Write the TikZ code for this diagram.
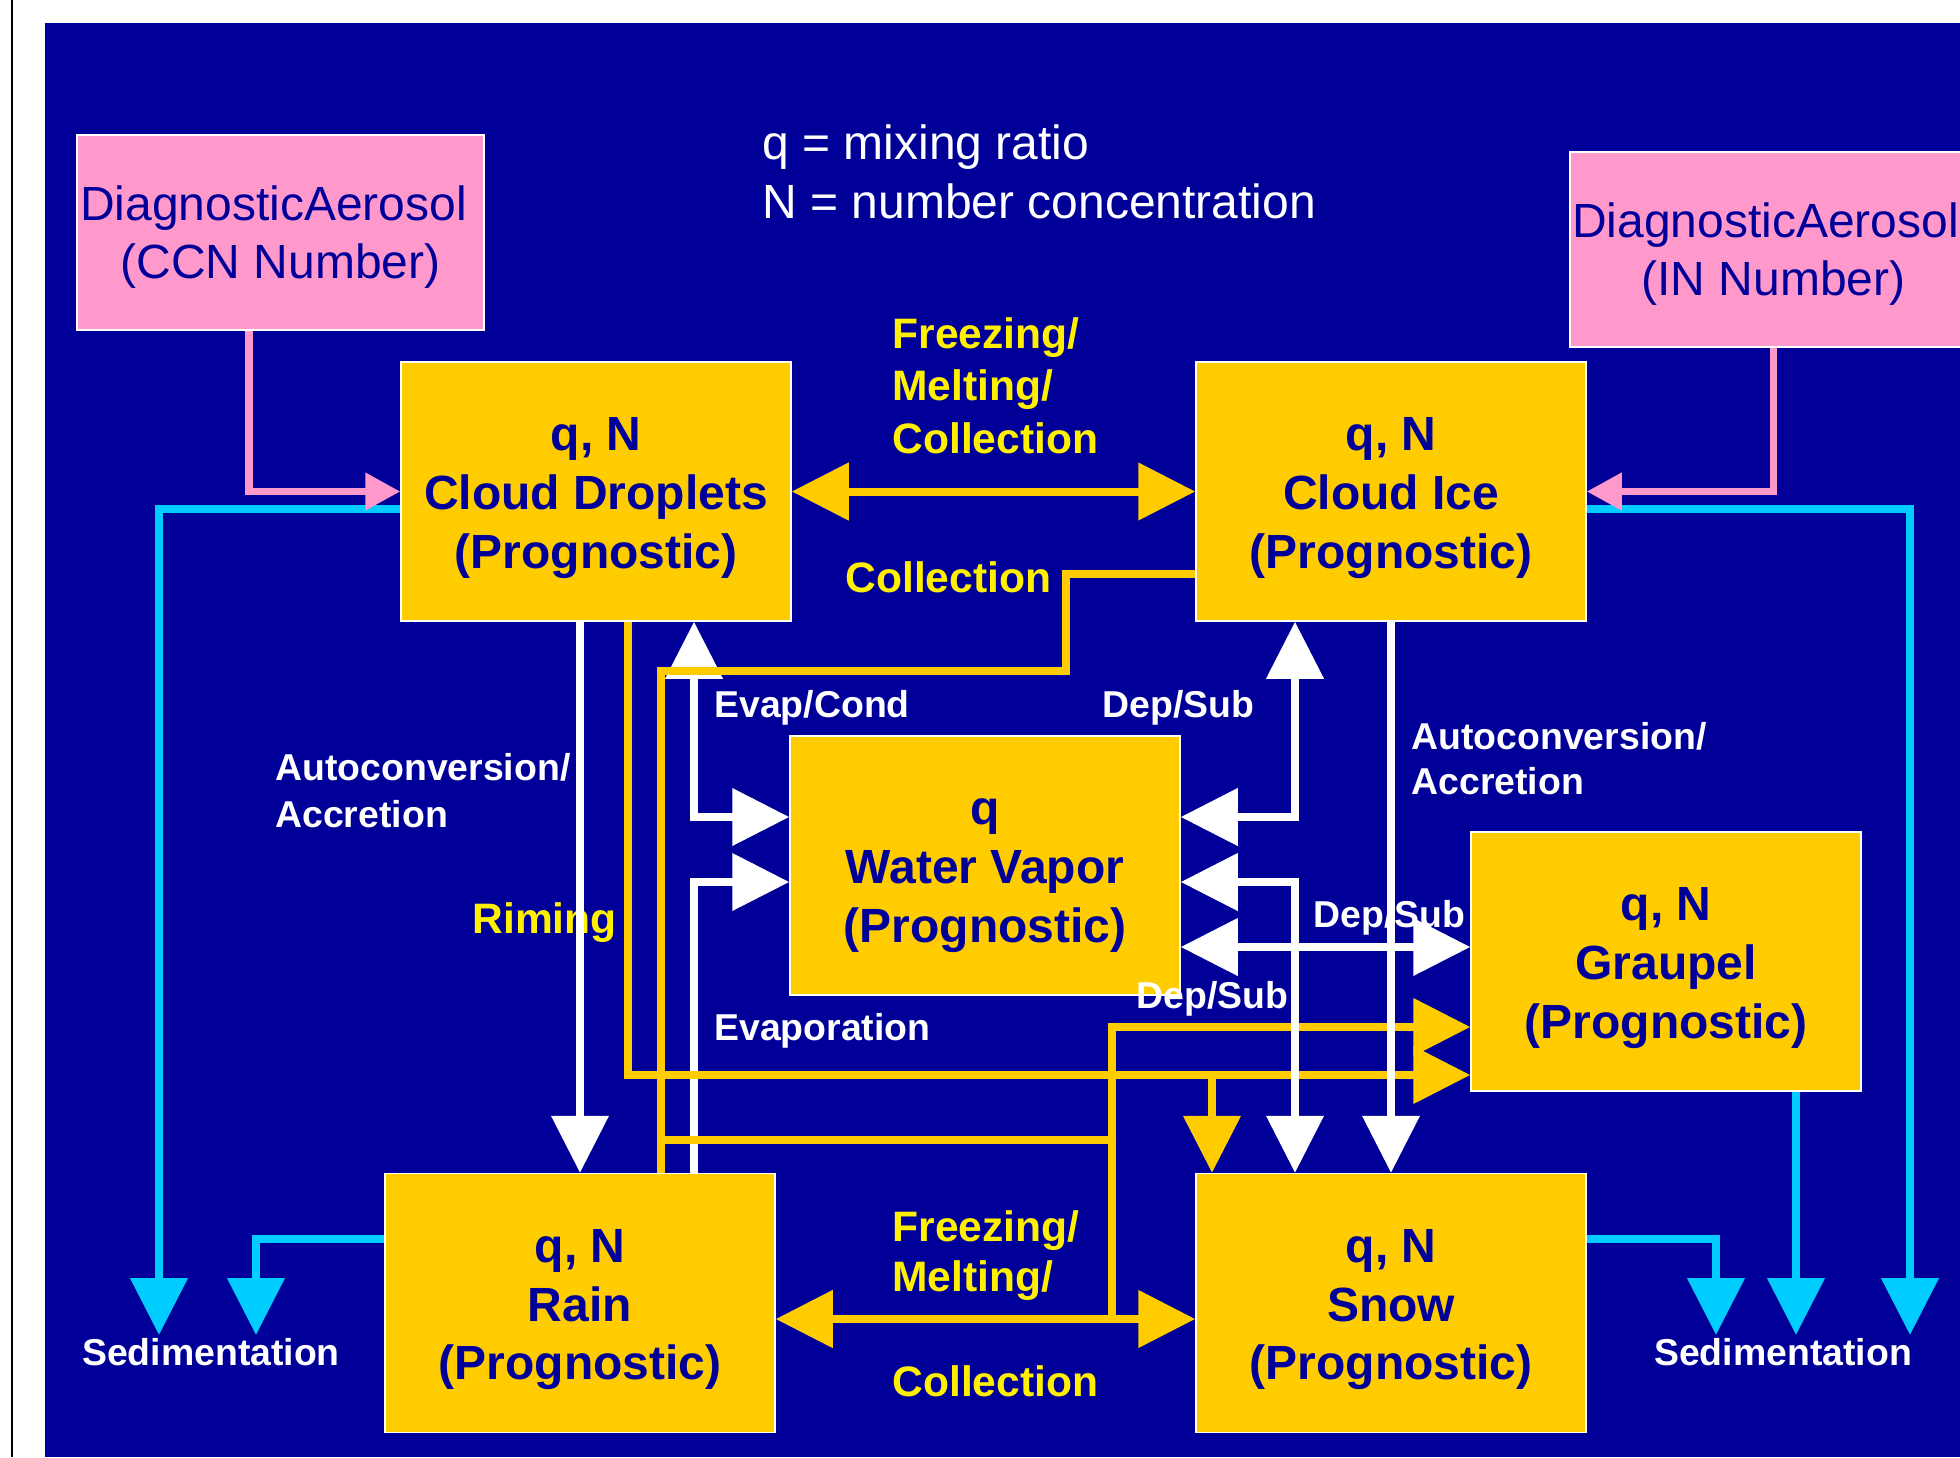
\documentclass[tikz,border=0pt]{standalone}
\usepackage{fontspec}
\setmainfont{Liberation Sans}
\usetikzlibrary{arrows.meta,calc}
\definecolor{bgblue}{RGB}{0,0,153}
\definecolor{boxyel}{RGB}{255,204,0}
\definecolor{labyel}{RGB}{255,240,0}
\definecolor{aeropink}{RGB}{255,153,204}
\definecolor{sedcyan}{RGB}{0,204,255}
\newcommand\tallstrut{\rule{0pt}{23.2pt}}
\newcommand\aerostrut{\rule{0pt}{22.2pt}}
\tikzset{
  BT/.tip={Triangle[length=28.5pt,width=28pt]},
  ST/.tip={Triangle[length=17.5pt,width=18pt]},
  procbox/.style={draw=white, line width=0.75pt, fill=boxyel, minimum width=195pt,
    minimum height=129.5pt, inner sep=0pt, align=center, text=bgblue,
    font=\bfseries\fontsize{24}{29.4}\selectfont},
  aerobox/.style={draw=white, line width=0.75pt, fill=aeropink, minimum width=203.5pt,
    minimum height=97.5pt, inner sep=0pt, align=center, text=bgblue,
    font=\fontsize{24}{29}\selectfont},
  ylab/.style={text=labyel, font=\bfseries\fontsize{21.3}{26}\selectfont, anchor=base west, inner sep=0pt},
  wlab/.style={text=white, font=\bfseries\fontsize{18.7}{23}\selectfont, anchor=base west, inner sep=0pt},
  legendtxt/.style={text=white, font=\fontsize{24}{29}\selectfont, anchor=base west, inner sep=0pt},
  wline/.style={draw=white, line width=3.75pt},
  yline/.style={draw=boxyel, line width=4pt},
  cline/.style={draw=sedcyan, line width=4pt},
  pline/.style={draw=aeropink, line width=3.75pt}
}
\begin{document}
\begin{tikzpicture}[x=0.5pt,y=-0.5pt]
\useasboundingbox (0,0) rectangle (1960,1457);
\fill[white] (0,0) rectangle (1960,1457);
\clip (0,0) rectangle (1960,1457);
\draw[black, line width=1pt] (11.5,0) -- (11.5,1457);
\fill[bgblue] (45,23) rectangle (1960,1457);

% boxes
\node[aerobox] (CCN) at (280.5,232.5) {\aerostrut DiagnosticAerosol\kern7pt\\(CCN Number)};
\node[aerobox] (IN) at (1773.5,249.5) {\aerostrut DiagnosticAerosol\kern8pt\\(IN Number)};
\node[procbox] (CD) at (596,491.5) {\tallstrut q, N\\Cloud Droplets\\(Prognostic)};
\node[procbox] (CI) at (1391,491.5) {\tallstrut q, N\\Cloud Ice\\(Prognostic)};
\node[procbox] (WV) at (985,865.5) {\tallstrut q\\Water Vapor\\(Prognostic)};
\node[procbox] (GR) at (1666,961.5) {\tallstrut q, N\\Graupel\\(Prognostic)};
\node[procbox] (RA) at (580,1303) {\tallstrut q, N\\Rain\\(Prognostic)};
\node[procbox] (SN) at (1391,1303) {\tallstrut q, N\\Snow\\(Prognostic)};

% free ends and bend points
\coordinate (sedL1) at (159,1335);
\coordinate (sedL2) at (256,1335);
\coordinate (sedR1) at (1716,1335);
\coordinate (sedR2) at (1796,1335);
\coordinate (sedR3) at (1910,1335);
\coordinate (colA) at (1066,671);
\coordinate (colB) at (661,1140);
\coordinate (colC) at (1112,1027);
\coordinate (colD) at (1112,1319);
\coordinate (rimeJ) at (1212,1075);

% sedimentation (cyan)
\draw[cline,-BT] ($(CD.west)+(0,17.5)$) -| (sedL1);
\draw[cline,-BT] ($(RA.west)+(0,-64)$) -| (sedL2);
\draw[cline,-BT] ($(CI.east)+(0,17.5)$) -| (sedR3);
\draw[cline,-BT] ($(GR.south)+(130,0)$) -- (sedR2);
\draw[cline,-BT] ($(SN.east)+(0,-64)$) -| (sedR1);

% aerosol (pink)
\draw[pline,-ST] ($(CCN.south)+(-31.5,0)$) |- (CD.west);
\draw[pline,-ST] (IN.south) |- (CI.east);

% evaporation / condensation (white, under yellow)
\draw[wline,BT-BT] ($(CD.south)+(98,0)$) |- ($(WV.west)+(0,-48.5)$);
\draw[wline,-BT] ($(RA.north)+(114,0)$) |- ($(WV.west)+(0,16.5)$);

% yellow processes
\draw[yline,BT-BT] (CD.east) -- (CI.west);
\draw[yline,BT-BT] ($(RA.east)+(0,16)$) -- ($(SN.west)+(0,16)$);
\draw[yline,-BT] ($(CD.south)+(32,0)$) |- ($(GR.west)+(0,113.5)$);
\draw[yline,-BT] (rimeJ) -- (rimeJ |- SN.north);
\draw[yline] ($(CI.west)+(0,82.5)$) -| (colA) -| (colB |- RA.north);
\draw[yline] (colB) -- (colB -| colC);
\draw[yline,-BT] (colD) -- (colC) -- ($(GR.west)+(0,65.5)$);

% labels
\node[legendtxt] (leg1) at (762,159) {q = mixing ratio};
\node[legendtxt] (leg2) at (762,218) {N = number concentration};
\node[ylab] (fz1) at (892,348) {Freezing/};
\node[ylab] (ml1) at (892,400) {Melting/};
\node[ylab] (co1) at (892,453) {Collection};
\node[ylab] (co2) at (845,592) {Collection};
\node[ylab] (fz2) at (892,1241) {Freezing/};
\node[ylab] (ml2) at (892,1291) {Melting/};
\node[ylab] (co3) at (892,1396) {Collection};
\node[ylab] (rim) at (472,933) {Riming};
\node[wlab] (evc) at (714,717) {Evap/Cond};
\node[wlab] (ds1) at (1102,717) {Dep/Sub};
\node[wlab] (ac1) at (275,780) {Autoconversion/};
\node[wlab] (ac2) at (275,827) {Accretion};
\node[wlab] (ac3) at (1411,749) {Autoconversion/};
\node[wlab] (ac4) at (1411,794) {Accretion};
\node[wlab] (ds2) at (1313,927) {Dep/Sub};
\node[wlab] (ds3) at (1136,1008) {Dep/Sub};
\node[wlab] (evp) at (714,1040) {Evaporation};
\node[wlab,anchor=base] (sed1) at (211,1365) {Sedimentation};
\node[wlab,anchor=base] (sed2) at (1783,1365) {Sedimentation};

% white processes (over yellow)
\draw[wline,-BT] (RA.north |- CD.south) -- (RA.north);
\draw[wline,-BT] (CI.south) -- (SN.north);
\draw[wline,BT-BT] ($(CI.south)+(-96,0)$) |- ($(WV.east)+(0,-48.5)$);
\draw[wline,BT-BT] ($(WV.east)+(0,16.5)$) -| ($(SN.north)+(-96,0)$);
\draw[wline,BT-BT] ($(WV.east)+(0,81.5)$) -- ($(GR.west)+(0,-14.5)$);
\end{tikzpicture}
\end{document}
